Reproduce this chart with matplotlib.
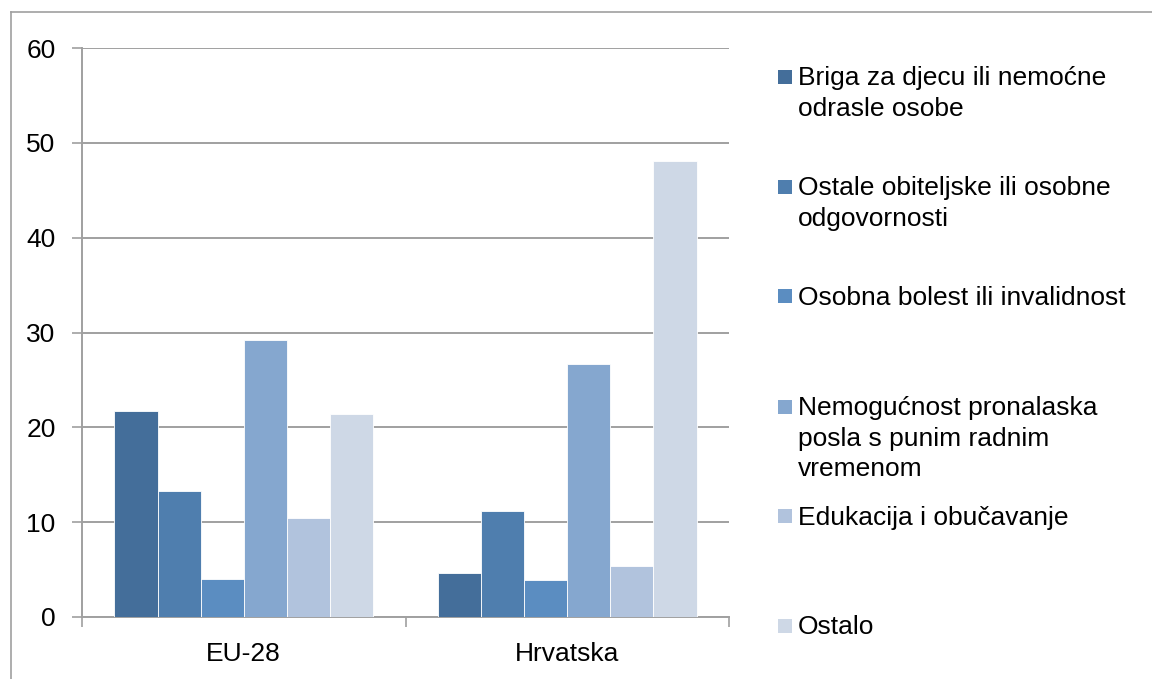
import matplotlib
matplotlib.use("Agg")
import matplotlib.pyplot as plt
from matplotlib.lines import Line2D
from matplotlib.patches import Rectangle
import numpy as np

plt.rcParams['font.family'] = ['Liberation Sans', 'DejaVu Sans']

categories = ["EU-28", "Hrvatska"]
series_labels = [
    "Briga za djecu ili nemoćne\nodrasle osobe",
    "Ostale obiteljske ili osobne\nodgovornosti",
    "Osobna bolest ili invalidnost",
    "Nemogućnost pronalaska\nposla s punim radnim\nvremenom",
    "Edukacija i obučavanje",
    "Ostalo",
]
briga = [21.7, 4.6]
ostale_obit = [13.3, 11.2]
bolest = [4.0, 3.9]
nemogucnost = [29.2, 26.7]
edukacija = [10.4, 5.4]
ostalo = [21.4, 48.1]
series_values = [briga, ostale_obit, bolest, nemogucnost, edukacija, ostalo]
colors = ["#446E9A", "#4F7EAE", "#5B8DC1", "#85A7CF", "#B1C3DD", "#CED8E6"]
yticks = [0, 10, 20, 30, 40, 50, 60]

W, H = 1152, 679
FS = 19
fig = plt.figure(figsize=(W / 100, H / 100), dpi=100)

# axes box in pixels: left 82, right 729, top 48, bottom 617
ax = fig.add_axes([82 / W, 1 - 617 / H, (729 - 82) / W, (617 - 48) / H])

n = len(series_values)
bw = 0.1333
x = np.arange(len(categories))
for i, (vals, c) in enumerate(zip(series_values, colors)):
    offs = (i - (n - 1) / 2) * bw
    ax.bar(x + offs, vals, width=bw, color=c, edgecolor="white", linewidth=0.6, zorder=3)

ax.set_xlim(-0.5, len(categories) - 0.5)
ax.set_ylim(0, 60)
ax.set_yticks(yticks)
ax.set_yticklabels([str(t) for t in yticks], fontsize=FS)
ax.yaxis.grid(True, color="#A0A0A0", linewidth=1.4, zorder=0)
ax.set_axisbelow(True)

ax.set_xticks(x)
ax.set_xticklabels(categories, fontsize=FS)
ax.tick_params(axis="x", length=0, pad=18)
ax.tick_params(axis="y", length=7, width=1.2, color="#A0A0A0", pad=12, direction="out")
# category boundary ticks
ax.set_xticks(np.arange(len(categories) + 1) - 0.5, minor=True)
ax.tick_params(axis="x", which="minor", length=7, width=1.2, color="#A0A0A0", direction="out")

for s in ["top", "right"]:
    ax.spines[s].set_visible(False)
for s in ["left", "bottom"]:
    ax.spines[s].set_color("#A0A0A0")
    ax.spines[s].set_linewidth(1.4)

# outer border (top and left only visible)
fig.add_artist(Line2D([11 / W, 1], [1 - 12 / H, 1 - 12 / H], color="#A0A0A0", linewidth=1.2))
fig.add_artist(Line2D([11 / W, 11 / W], [0, 1 - 12 / H], color="#A0A0A0", linewidth=1.2))

# legend (pixel y of first-line centre for each entry)
legend_centre = [77, 187, 296, 407, 516, 626]
for lab, c, yc in zip(series_labels, colors, legend_centre):
    fig.add_artist(Rectangle((778 / W, 1 - (yc + 7) / H), 14 / W, 14 / H,
                             transform=fig.transFigure, facecolor=c, edgecolor="none"))
    fig.text(798 / W, 1 - (yc - 10.5) / H, lab, fontsize=FS, va="top", ha="left",
             linespacing=1.32)

fig.savefig("out.png", dpi=100, facecolor="white")
